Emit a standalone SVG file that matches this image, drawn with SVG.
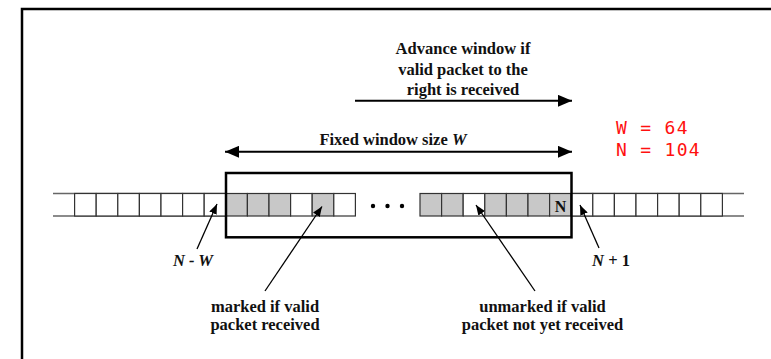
<svg xmlns="http://www.w3.org/2000/svg" width="771" height="359" viewBox="0 0 771 359">
<defs>
<style>
.t{font-family:"Liberation Serif","Times New Roman",serif;font-weight:bold;font-size:16.5px;fill:#111;text-anchor:middle}
.it{font-style:italic}
.red{font-family:"DejaVu Sans Mono","Liberation Mono",monospace;font-size:18px;letter-spacing:1.3px;fill:#ff1010}
.cw{fill:#fff;stroke:#333;stroke-width:1.2}
.cg{fill:#c8c8c8;stroke:#333;stroke-width:1.2}
.hl{stroke:#666;stroke-width:1.4;fill:none}
.ln{stroke:#000;stroke-width:1.3;fill:none}
.big{stroke:#000;stroke-width:2;fill:none}
</style>
<marker id="ah" viewBox="0 0 10 8" markerUnits="userSpaceOnUse" markerWidth="10" markerHeight="8" refX="10" refY="4" orient="auto"><path d="M0,0 L10,4 L0,8 z" fill="#000"/></marker>
<marker id="bh" viewBox="0 0 14 12" markerUnits="userSpaceOnUse" markerWidth="14" markerHeight="12" refX="14" refY="6" orient="auto-start-reverse"><path d="M0,0 L14,6 L0,12 z" fill="#000"/></marker>
</defs>
<rect width="771" height="359" fill="#fff"/>
<path d="M22,359 V9 H771" fill="none" stroke="#000" stroke-width="2.5"/>

<g id="cells-left-outside">
<path class="hl" d="M53,193.5 H226 M53,216 H226"/>
<rect class="cw" x="74.6" y="193.5" width="21.6" height="22.5"/>
<rect class="cw" x="96.2" y="193.5" width="21.6" height="22.5"/>
<rect class="cw" x="117.8" y="193.5" width="21.6" height="22.5"/>
<rect class="cw" x="139.4" y="193.5" width="21.6" height="22.5"/>
<rect class="cw" x="161" y="193.5" width="21.6" height="22.5"/>
<rect class="cw" x="182.6" y="193.5" width="21.6" height="22.5"/>
<rect class="cw" x="204.2" y="193.5" width="21.6" height="22.5"/>
</g>
<g id="cells-window-left">
<rect class="cg" x="225.8" y="193.5" width="21.6" height="22.5"/>
<rect class="cg" x="247.4" y="193.5" width="21.6" height="22.5"/>
<rect class="cg" x="269" y="193.5" width="21.6" height="22.5"/>
<rect class="cw" x="290.6" y="193.5" width="21.6" height="22.5"/>
<rect class="cg" x="312.2" y="193.5" width="21.6" height="22.5"/>
<rect class="cw" x="333.8" y="193.5" width="21.6" height="22.5"/>
</g>
<g id="dots">
<circle cx="373" cy="206" r="2.2" fill="#000"/>
<circle cx="387.5" cy="206" r="2.2" fill="#000"/>
<circle cx="402" cy="206" r="2.2" fill="#000"/>
</g>
<g id="cells-window-right">
<rect class="cg" x="420" y="193.5" width="21.6" height="22.5"/>
<rect class="cg" x="441.6" y="193.5" width="21.6" height="22.5"/>
<rect class="cw" x="463.2" y="193.5" width="21.6" height="22.5"/>
<rect class="cg" x="484.8" y="193.5" width="21.6" height="22.5"/>
<rect class="cg" x="506.4" y="193.5" width="21.6" height="22.5"/>
<rect class="cg" x="528" y="193.5" width="21.6" height="22.5"/>
<rect class="cg" x="549.6" y="193.5" width="21.6" height="22.5"/>
<text class="t" x="560.5" y="211.5" style="font-size:16px">N</text>
</g>
<g id="cells-right-outside">
<path class="hl" d="M571,193.5 H744 M571,216 H744"/>
<rect class="cw" x="571.2" y="193.5" width="21.6" height="22.5"/>
<rect class="cw" x="592.8" y="193.5" width="21.6" height="22.5"/>
<rect class="cw" x="614.4" y="193.5" width="21.6" height="22.5"/>
<rect class="cw" x="636" y="193.5" width="21.6" height="22.5"/>
<rect class="cw" x="657.6" y="193.5" width="21.6" height="22.5"/>
<rect class="cw" x="679.2" y="193.5" width="21.6" height="22.5"/>
<rect class="cw" x="700.8" y="193.5" width="21.6" height="22.5"/>
</g>
<g id="window-box">
<rect x="226" y="173" width="345.5" height="64.3" fill="none" stroke="#000" stroke-width="2.5"/>
</g>

<g id="advance-label">
<text class="t" x="463" y="54">Advance window if</text>
<text class="t" x="463" y="74.5">valid packet to the</text>
<text class="t" x="463" y="95">right is received</text>
</g>
<g id="fixed-label">
<text class="t" x="393" y="145">Fixed window size <tspan class="it">W</tspan></text>
</g>
<g id="params">
<text class="red" x="616" y="134" xml:space="preserve">W = 64</text>
<text class="red" x="616" y="155.5" xml:space="preserve">N = 104</text>
</g>
<g id="label-nw"><text class="t it" x="193" y="266">N - W</text></g>
<g id="label-n1"><text class="t it" x="611" y="266">N<tspan style="font-style:normal"> + 1</tspan></text></g>
<g id="label-marked">
<text class="t" x="265" y="311.5">marked if valid</text>
<text class="t" x="265" y="330">packet received</text>
</g>
<g id="label-unmarked">
<text class="t" x="542.5" y="311.5">unmarked if valid</text>
<text class="t" x="542.5" y="330">packet not yet received</text>
</g>

<g id="connectors">
<line class="big" x1="355" y1="100.8" x2="572" y2="100.8" marker-end="url(#bh)"/>
<line class="big" x1="225" y1="151.8" x2="572" y2="151.8" marker-start="url(#bh)" marker-end="url(#bh)"/>
<line class="ln" x1="197" y1="249" x2="217" y2="204" marker-end="url(#ah)"/>
<line class="ln" x1="265" y1="291" x2="322" y2="206.5" marker-end="url(#ah)"/>
<line class="ln" x1="535" y1="291" x2="476" y2="205" marker-end="url(#ah)"/>
<line class="ln" x1="599" y1="248" x2="580" y2="205" marker-end="url(#ah)"/>
</g>
</svg>
